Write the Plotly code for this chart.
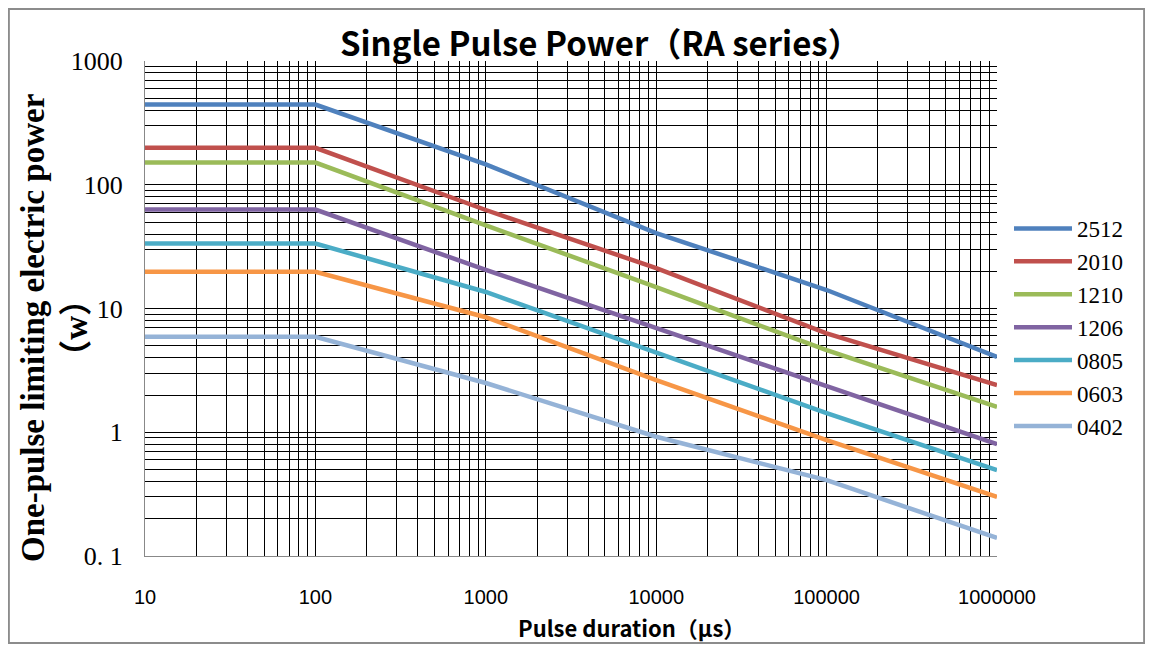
import plotly.graph_objects as go

# Data
pulse_us = [10, 100, 1000, 10000, 100000, 1000000]
series_names = ["2512", "2010", "1210", "1206", "0805", "0603", "0402"]
p_2512 = [445, 445, 146, 40.7, 14.1, 4.06]
p_2010 = [199, 199, 62.5, 21.2, 6.3, 2.41]
p_1210 = [151, 151, 47, 14.9, 4.6, 1.6]
p_1206 = [63, 63, 20.5, 6.95, 2.4, 0.80]
p_0805 = [33.5, 33.5, 13.6, 4.37, 1.43, 0.495]
p_0603 = [19.8, 19.8, 8.5, 2.64, 0.865, 0.30]
p_0402 = [5.9, 5.9, 2.5, 0.92, 0.41, 0.14]
series_values = [p_2512, p_2010, p_1210, p_1206, p_0805, p_0603, p_0402]
colors = ["#4F81BD", "#C0504D", "#9BBB59", "#8064A2", "#4BACC6", "#F79646", "#95B3D7"]

x_tick_labels = ["10", "100", "1000", "10000", "100000", "1000000"]
y_tick_labels = ["0. 1", "1", "10", "100", "1000"]

# tick arrays (major labelled + minor grid positions)
x_tickvals, x_ticktext = [], []
for k in range(1, 7):
    base = 10 ** k
    for m in range(1, 10):
        if k == 6 and m > 1:
            break
        x_tickvals.append(m * base)
        x_ticktext.append(x_tick_labels[k - 1] if m == 1 else "")

y_tickvals, y_ticktext = [], []
for k in range(-1, 4):
    base = 10.0 ** k
    for m in range(1, 10):
        if k == 3 and m > 1:
            break
        y_tickvals.append(m * base)
        y_ticktext.append(y_tick_labels[k + 1] if m == 1 else "")

fig = go.Figure()
for i, (name, vals) in enumerate(zip(series_names, series_values)):
    fig.add_trace(go.Scatter(
        x=pulse_us, y=vals, mode="lines", name=name,
        line=dict(color=colors[i], width=4.5),
        legendgroup=name,
    ))

# page body adds an 8px offset; figure coordinates are screen - 8
L, R, T, B = 137, 148, 53, 88
W, H = 1137, 636
pw, ph = W - L - R, H - T - B

def px_x(sx):  # screen x -> paper
    return (sx - 8 - L) / pw

def px_y(sy):  # screen y -> paper
    return (T + ph - (sy - 8)) / ph

fig.update_layout(
    width=W, height=H,
    margin=dict(l=L, r=R, t=T, b=B),
    paper_bgcolor="white", plot_bgcolor="white",
    showlegend=True,
    legend=dict(
        x=px_x(1009), y=0.705, xanchor="left", yanchor="top",
        font=dict(family="Liberation Serif, DejaVu Serif", size=23, color="black"),
        itemwidth=58, tracegroupgap=0, bgcolor="rgba(0,0,0,0)",
    ),
    annotations=[
        dict(text="<b>Single Pulse Power（RA series）</b>", xref="paper", yref="paper",
             x=px_x(600), y=px_y(42), xanchor="center", yanchor="middle",
             showarrow=False,
             font=dict(family="Noto Sans CJK SC", size=33, color="black")),
        dict(text="<b>Pulse duration（μs）</b>", xref="paper", yref="paper",
             x=px_x(631), y=px_y(627), xanchor="center", yanchor="middle",
             showarrow=False,
             font=dict(family="Noto Sans CJK SC", size=22, color="black")),
        dict(text="<b>One-pulse limiting electric power</b><br><b>（w）</b>", xref="paper", yref="paper",
             x=px_x(55), y=px_y(328), xanchor="center", yanchor="middle",
             textangle=-90, showarrow=False,
             font=dict(family="Liberation Serif, Noto Sans CJK SC", size=33, color="black")),
    ],
    shapes=[
        dict(type="rect", xref="paper", yref="paper",
             x0=-L / pw + 0.001, x1=1 + R / pw - 0.001,
             y0=-B / ph + 0.002, y1=1 + T / ph - 0.002,
             line=dict(color="#8c8c8c", width=2), layer="below"),
    ],
)

fig.update_xaxes(
    type="log", range=[1, 6],
    tickmode="array", tickvals=x_tickvals, ticktext=x_ticktext,
    showgrid=True, gridcolor="black", gridwidth=1,
    showline=True, linecolor="#888888", linewidth=1, mirror=False,
    ticks="", ticklabelstandoff=23,
    tickfont=dict(family="Liberation Sans, Arial", size=20, color="black"),
    zeroline=False,
)
fig.update_yaxes(
    type="log", range=[-1, 3],
    tickmode="array", tickvals=y_tickvals, ticktext=y_ticktext,
    showgrid=True, gridcolor="black", gridwidth=1,
    showline=True, linecolor="#888888", linewidth=1, mirror=False,
    ticks="", ticklabelstandoff=16,
    tickfont=dict(family="Liberation Serif, DejaVu Serif", size=26, color="black"),
    zeroline=False,
)

fig.write_html("out.html")
